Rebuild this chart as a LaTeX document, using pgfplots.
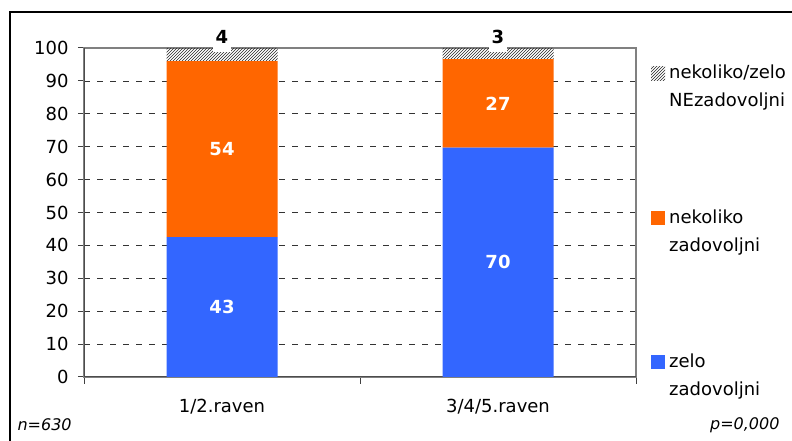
\documentclass[border=0pt]{standalone}
\usepackage{fontspec}
\setmainfont{DejaVu Sans}
\usepackage{pgfplots}
\pgfplotsset{compat=1.18}
\usetikzlibrary{patterns}
\definecolor{orng}{HTML}{FF6600}
\definecolor{blu}{HTML}{3366FF}
\begin{document}
\begin{tikzpicture}[x=1pt,y=1pt]
\useasboundingbox (0,0) rectangle (792,441);
\fill[white] (0,0) rectangle (792,441);
\draw[black, line width=1.5pt] (10,-20) -- (10,429) -- (820,429);
\begin{axis}[
  at={(84pt,64pt)}, anchor=south west,
  scale only axis, width=552pt, height=329pt,
  ybar stacked, bar width=111pt,
  xmin=-0.5, xmax=1.5, ymin=0, ymax=100,
  xtick={0,1}, xticklabels={1/2.raven,3/4/5.raven},
  ytick={0,10,...,100},
  minor xtick={-0.5,0.5,1.5},
  tick pos=left,
  tick align=outside,
  major tick length=6pt, minor tick length=7pt,
  major x tick style={draw=none},
  tick style={black!75, line width=1pt},
  ymajorgrids,
  major grid style={black!80, line width=0.7pt, dash pattern=on 6pt off 7pt},
  axis line style={draw=gray, line width=1.6pt},
  ticklabel style={font=\fontsize{18}{20}\selectfont},
  yticklabel style={xshift=-6pt},
  xticklabel style={yshift=-13pt},
  /pgf/number format/assume math mode=true,
  legend image code/.code={\fill[#1] (0pt,6pt) rectangle (14pt,20pt);},
  reverse legend,
  legend cell align=left,
  legend style={at={(1,1)}, anchor=north west, xshift=12pt, yshift=-15pt,
    draw=none, fill=none, row sep=101pt, column sep=4pt,
    nodes={align=left, inner sep=0pt, font=\fontsize{18}{28}\selectfont}},
]
\addplot[fill=blu, draw=none] coordinates {(0,42.5) (1,69.7)};
\addlegendentry{zelo\\zadovoljni}
\addplot[fill=orng, draw=none] coordinates {(0,53.5) (1,26.9)};
\addlegendentry{nekoliko\\zadovoljni}
\addplot[pattern=north east lines, pattern color=black!85, draw=none] coordinates {(0,4.0) (1,3.4)};
\addlegendentry{nekoliko/zelo\\NEzadovoljni}
\draw[black!70, line width=1.6pt] (rel axis cs:0,1) -- (rel axis cs:0,0) -- (rel axis cs:1,0);
\end{axis}
\begin{axis}[
  at={(84pt,64pt)}, anchor=south west,
  scale only axis, width=552pt, height=329pt,
  xmin=-0.5, xmax=1.5, ymin=0, ymax=100,
  hide axis, clip=false,
]
\addplot[only marks, mark=*, mark size=0pt, mark options={draw=none, fill=none},
  nodes near coords, point meta=explicit symbolic,
  nodes near coords align={center},
  every node near coord/.append style={text=white, font=\bfseries\fontsize{18}{20}\selectfont}]
  table[meta=lab] {
x y lab
0 21.25 43
0 69.25 54
1 34.85 70
1 83.15 27
};
\addplot[only marks, mark=*, mark size=0pt, mark options={draw=none, fill=none},
  nodes near coords, point meta=explicit symbolic,
  nodes near coords align={south},
  every node near coord/.append style={text=black, fill=white, inner xsep=3pt, inner ysep=1pt, text depth=7pt, yshift=-4pt, font=\bfseries\fontsize{18}{20}\selectfont}]
  table[meta=lab] {
x y lab
0 100 4
1 100 3
};
\end{axis}
\node[anchor=west, font=\itshape\fontsize{16}{18}\selectfont] at (14,16) {n=630};
\node[anchor=east, font=\itshape\fontsize{16}{18}\selectfont] at (783,16) {p=0,000};
\end{tikzpicture}
\end{document}
